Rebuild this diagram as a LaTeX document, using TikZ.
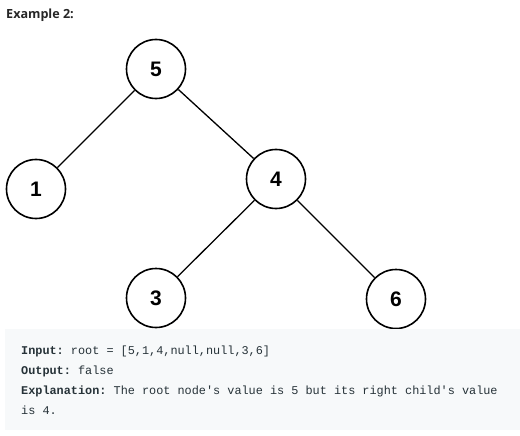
\documentclass[tikz,border=0pt]{standalone}
\usepackage{fontspec}
\setmainfont{Liberation Sans}
\setmonofont{Liberation Mono}
\newfontfamily\titlefont{Open Sans}
\definecolor{codebg}{RGB}{247,249,250}
\definecolor{codefg}{RGB}{38,50,56}
\definecolor{titlefg}{RGB}{38,38,38}
\begin{document}
\begin{tikzpicture}[x=1pt, y=-1pt,
    vertex/.style={circle, draw, line width=1.6pt, minimum size=59pt,
        inner sep=0pt, font=\fontsize{21}{21}\selectfont\bfseries},
    edge/.style={line width=1.3pt},
    codeline/.style={anchor=base west, inner sep=0pt, text=codefg,
        font=\ttfamily\fontsize{11.85}{14}\selectfont}]
    \useasboundingbox (0,0) rectangle (520,436);
    % Заголовок
    \node[anchor=base west, inner sep=0pt, text=titlefg,
        font=\titlefont\fontsize{12.6}{15}\selectfont\bfseries]
        (title) at (6,18.5) {Example 2:};
    % Вершины дерева
    \node[vertex] (v5) at (156,69) {5};
    \node[vertex] (v1) at (36,189) {1};
    \node[vertex] (v4) at (276,179) {4};
    \node[vertex] (v3) at (156,298) {3};
    \node[vertex] (v6) at (396,299) {6};
    % Рёбра
    \draw[edge] (v5) -- (v1);
    \draw[edge] (v5) -- (v4);
    \draw[edge] (v4) -- (v3);
    \draw[edge] (v4) -- (v6);
    % Блок с пояснением
    \fill[codebg] (5,329) rectangle (520,430);
    \node[codeline] (inp) at (21,354)
        {\textbf{Input:} root = [5,1,4,null,null,3,6]};
    \node[codeline] (outp) at (21,374) {\textbf{Output:} false};
    \node[codeline] (expl) at (21,394)
        {\textbf{Explanation:} The root node's value is 5 but its right child's value};
    \node[codeline] (expl2) at (21,414) {is 4.};
\end{tikzpicture}
\end{document}
